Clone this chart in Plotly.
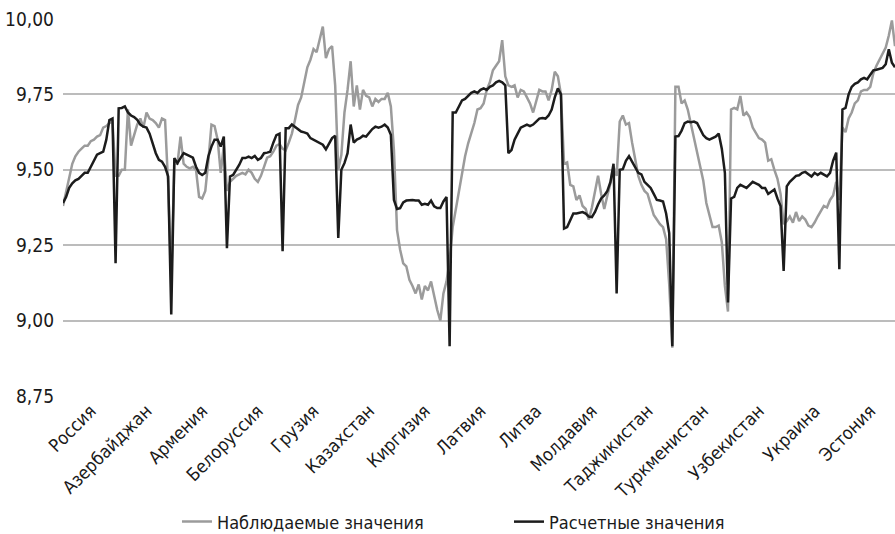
import plotly.graph_objects as go

# Countries in panel order; each country has 18 consecutive observations
countries = ["Россия", "Азербайджан", "Армения", "Белоруссия", "Грузия", "Казахстан",
             "Киргизия", "Латвия", "Литва", "Молдавия", "Таджикистан", "Туркменистан",
             "Узбекистан", "Украина", "Эстония"]

# Observed values (log scale), per country
observed_russia = [9.38, 9.43, 9.48, 9.52, 9.545, 9.56, 9.57, 9.58, 9.58, 9.595, 9.60, 9.61, 9.615, 9.64, 9.645, 9.655, 9.66, 9.48]
observed_azerbaijan = [9.48, 9.50, 9.50, 9.70, 9.58, 9.62, 9.65, 9.67, 9.64, 9.69, 9.67, 9.665, 9.655, 9.64, 9.67, 9.665, 9.45, 9.14]
observed_armenia = [9.52, 9.52, 9.61, 9.52, 9.51, 9.505, 9.51, 9.50, 9.41, 9.405, 9.43, 9.53, 9.65, 9.645, 9.60, 9.49, 9.58, 9.43]
observed_belarus = [9.46, 9.47, 9.48, 9.485, 9.49, 9.485, 9.50, 9.49, 9.47, 9.46, 9.48, 9.51, 9.54, 9.545, 9.56, 9.58, 9.585, 9.57]
observed_georgia = [9.565, 9.59, 9.62, 9.665, 9.715, 9.74, 9.79, 9.84, 9.865, 9.90, 9.89, 9.93, 9.975, 9.87, 9.90, 9.91, 9.78, 9.50]
observed_kazakhstan = [9.55, 9.69, 9.765, 9.86, 9.71, 9.78, 9.70, 9.765, 9.745, 9.74, 9.71, 9.735, 9.725, 9.735, 9.735, 9.755, 9.71, 9.565]
observed_kyrgyzstan = [9.30, 9.235, 9.19, 9.18, 9.135, 9.115, 9.09, 9.12, 9.07, 9.115, 9.10, 9.13, 9.08, 9.035, 9.00, 9.09, 9.13, 9.20]
observed_latvia = [9.31, 9.367, 9.428, 9.489, 9.545, 9.588, 9.62, 9.655, 9.70, 9.704, 9.72, 9.765, 9.79, 9.83, 9.845, 9.86, 9.93, 9.81]
observed_lithuania = [9.78, 9.775, 9.78, 9.74, 9.765, 9.76, 9.74, 9.72, 9.69, 9.73, 9.765, 9.76, 9.76, 9.73, 9.765, 9.825, 9.81, 9.75]
observed_moldova = [9.52, 9.525, 9.45, 9.445, 9.40, 9.415, 9.38, 9.37, 9.335, 9.375, 9.43, 9.48, 9.42, 9.37, 9.415, 9.455, 9.51, 9.48]
observed_tajikistan = [9.66, 9.68, 9.65, 9.655, 9.59, 9.53, 9.48, 9.45, 9.43, 9.42, 9.385, 9.35, 9.335, 9.32, 9.31, 9.27, 9.12, 8.91]
observed_turkmenistan = [9.775, 9.775, 9.72, 9.73, 9.70, 9.655, 9.60, 9.565, 9.52, 9.465, 9.39, 9.35, 9.31, 9.31, 9.315, 9.26, 9.115, 9.03]
observed_uzbekistan = [9.70, 9.705, 9.70, 9.745, 9.68, 9.69, 9.675, 9.64, 9.62, 9.605, 9.60, 9.59, 9.53, 9.535, 9.50, 9.47, 9.42, 9.32]
observed_ukraine = [9.33, 9.345, 9.325, 9.36, 9.33, 9.345, 9.335, 9.315, 9.31, 9.325, 9.345, 9.365, 9.38, 9.375, 9.40, 9.415, 9.46, 9.40]
observed_estonia = [9.64, 9.625, 9.67, 9.69, 9.72, 9.73, 9.76, 9.765, 9.765, 9.775, 9.82, 9.845, 9.865, 9.88, 9.905, 9.945, 9.995, 9.91]

# Fitted values, per country
fitted_russia = [9.39, 9.41, 9.44, 9.455, 9.465, 9.47, 9.48, 9.49, 9.49, 9.51, 9.53, 9.55, 9.555, 9.56, 9.60, 9.665, 9.67, 9.19]
fitted_azerbaijan = [9.704, 9.705, 9.71, 9.69, 9.68, 9.675, 9.666, 9.65, 9.643, 9.64, 9.62, 9.59, 9.555, 9.533, 9.527, 9.51, 9.478, 9.02]
fitted_armenia = [9.539, 9.522, 9.54, 9.555, 9.55, 9.545, 9.54, 9.51, 9.49, 9.483, 9.49, 9.545, 9.577, 9.60, 9.60, 9.577, 9.61, 9.24]
fitted_belarus = [9.478, 9.483, 9.50, 9.517, 9.539, 9.539, 9.544, 9.539, 9.546, 9.533, 9.539, 9.555, 9.557, 9.56, 9.59, 9.615, 9.62, 9.23]
fitted_georgia = [9.638, 9.638, 9.65, 9.643, 9.635, 9.627, 9.624, 9.62, 9.605, 9.60, 9.594, 9.588, 9.583, 9.568, 9.588, 9.605, 9.613, 9.274]
fitted_kazakhstan = [9.50, 9.522, 9.555, 9.65, 9.59, 9.60, 9.605, 9.613, 9.61, 9.624, 9.635, 9.643, 9.64, 9.643, 9.65, 9.64, 9.616, 9.40]
fitted_kyrgyzstan = [9.37, 9.373, 9.392, 9.398, 9.40, 9.40, 9.398, 9.398, 9.384, 9.387, 9.384, 9.398, 9.379, 9.373, 9.373, 9.395, 9.41, 8.915]
fitted_latvia = [9.69, 9.69, 9.71, 9.73, 9.735, 9.745, 9.755, 9.76, 9.755, 9.765, 9.77, 9.765, 9.775, 9.78, 9.79, 9.795, 9.79, 9.78]
fitted_lithuania = [9.555, 9.565, 9.60, 9.62, 9.64, 9.645, 9.65, 9.645, 9.65, 9.66, 9.67, 9.672, 9.67, 9.68, 9.70, 9.74, 9.77, 9.75]
fitted_moldova = [9.305, 9.31, 9.335, 9.355, 9.355, 9.357, 9.36, 9.355, 9.345, 9.343, 9.36, 9.385, 9.405, 9.415, 9.43, 9.46, 9.52, 9.09]
fitted_tajikistan = [9.50, 9.502, 9.53, 9.545, 9.528, 9.51, 9.49, 9.485, 9.46, 9.45, 9.44, 9.42, 9.40, 9.398, 9.395, 9.355, 9.29, 8.915]
fitted_turkmenistan = [9.61, 9.612, 9.63, 9.655, 9.66, 9.658, 9.66, 9.655, 9.635, 9.615, 9.605, 9.60, 9.605, 9.61, 9.62, 9.57, 9.49, 9.06]
fitted_uzbekistan = [9.405, 9.41, 9.44, 9.45, 9.445, 9.44, 9.45, 9.46, 9.455, 9.45, 9.44, 9.44, 9.42, 9.428, 9.435, 9.405, 9.38, 9.165]
fitted_ukraine = [9.445, 9.46, 9.47, 9.48, 9.482, 9.49, 9.493, 9.486, 9.478, 9.49, 9.483, 9.49, 9.483, 9.478, 9.49, 9.53, 9.557, 9.17]
fitted_estonia = [9.70, 9.705, 9.75, 9.775, 9.785, 9.79, 9.80, 9.805, 9.80, 9.815, 9.83, 9.832, 9.835, 9.838, 9.85, 9.90, 9.855, 9.84]

observed = (observed_russia + observed_azerbaijan + observed_armenia + observed_belarus
            + observed_georgia + observed_kazakhstan + observed_kyrgyzstan + observed_latvia
            + observed_lithuania + observed_moldova + observed_tajikistan + observed_turkmenistan
            + observed_uzbekistan + observed_ukraine + observed_estonia)
fitted = (fitted_russia + fitted_azerbaijan + fitted_armenia + fitted_belarus
          + fitted_georgia + fitted_kazakhstan + fitted_kyrgyzstan + fitted_latvia
          + fitted_lithuania + fitted_moldova + fitted_tajikistan + fitted_turkmenistan
          + fitted_uzbekistan + fitted_ukraine + fitted_estonia)

per_country = len(observed_russia)
x = list(range(len(observed)))
label_pos = [k * per_country + 9 for k in range(len(countries))]
y_ticks = [8.75, 9.00, 9.25, 9.50, 9.75, 10.00]

FONT = "DejaVu Sans Condensed"

fig = go.Figure()
fig.add_trace(go.Scatter(x=x, y=observed, mode="lines", name="Наблюдаемые значения",
                         line=dict(color="#9b9b9b", width=2.5)))
fig.add_trace(go.Scatter(x=x, y=fitted, mode="lines", name="Расчетные значения",
                         line=dict(color="#1c1c1c", width=2.5)))

fig.update_layout(
    width=895, height=534,
    margin=dict(l=63, r=0, t=19, b=138, autoexpand=False),
    paper_bgcolor="white", plot_bgcolor="white",
    separators=", ",
    font=dict(family=FONT, size=18, color="#1a1a1a"),
    showlegend=True,
    legend=dict(orientation="h", x=0.137, xanchor="left",
                y=-0.334, yanchor="middle", font=dict(size=18),
                entrywidth=287, entrywidthmode="pixels"),
    xaxis=dict(range=[0, len(observed) - 1], tickmode="array", tickvals=label_pos,
               ticktext=countries, tickangle=-45, showgrid=False, zeroline=False,
               showline=False, ticks="", tickfont=dict(size=18)),
    yaxis=dict(range=[8.75, 10.0], tickmode="array", tickvals=y_ticks, tickformat=".2f",
               showgrid=True, gridcolor="#bcbcbc", gridwidth=1.5, zeroline=False,
               showline=False, ticks="", ticklabelstandoff=8, tickfont=dict(size=19)),
)

fig.write_html("out.html")
